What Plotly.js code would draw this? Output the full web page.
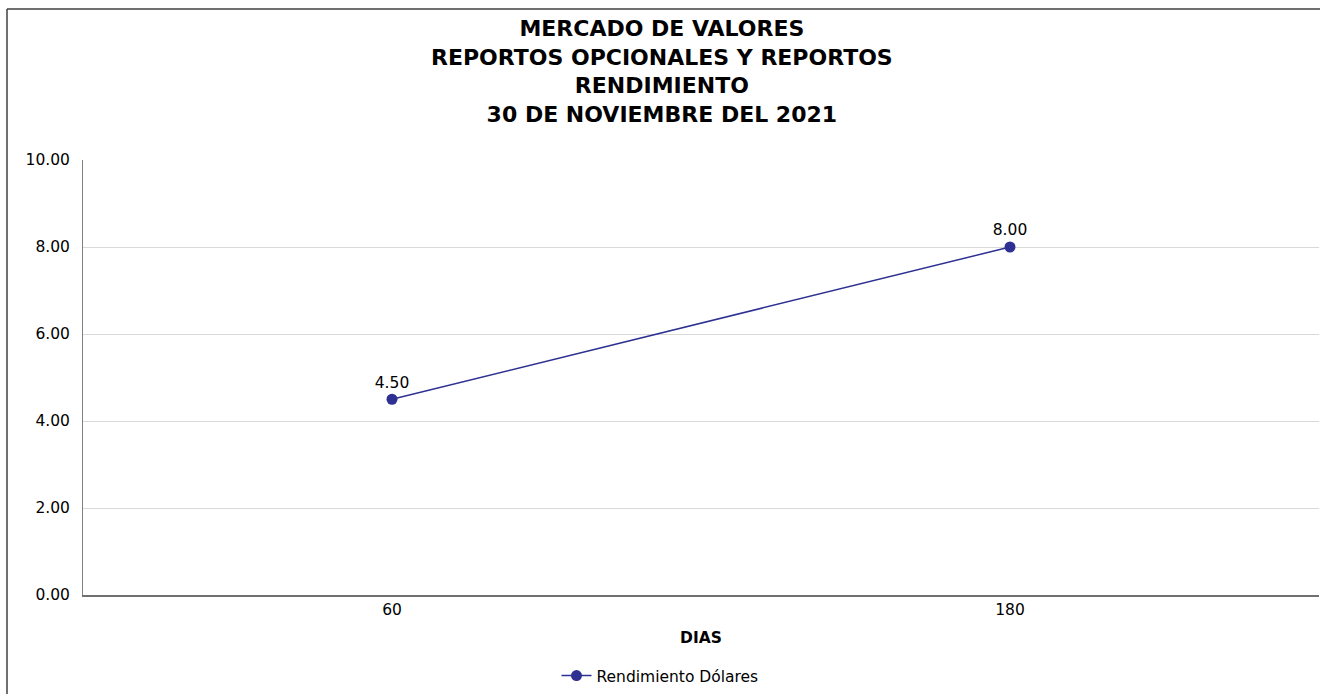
<!DOCTYPE html>
<html>
<head>
<meta charset="utf-8">
<script src="https://cdn.plot.ly/plotly-3.0.1.min.js"></script>
<style>
html,body{margin:0;padding:0;background:#fff;}
#chart{width:1320px;height:694px;}
</style>
</head>
<body>
<div id="chart"></div>
<script>
var categories = ["60", "180"];
var rendimientoDolares = [4.50, 8.00];
var yTicks = [0, 2, 4, 6, 8, 10];
var yTickLabels = ["0.00", "2.00", "4.00", "6.00", "8.00", "10.00"];
var seriesName = "Rendimiento Dólares";
var titleLines = ["MERCADO DE VALORES", "REPORTOS OPCIONALES Y REPORTOS", "RENDIMIENTO", "30 DE NOVIEMBRE DEL 2021"];

var FONT = "DejaVu Sans, Verdana, sans-serif";
var PLOT_H = 435, PLOT_W = 1236;

var trace = {
  x: categories,
  y: rendimientoDolares,
  type: "scatter",
  mode: "lines+markers+text",
  name: seriesName,
  text: rendimientoDolares.map(function(v){ return v.toFixed(2); }),
  textposition: "top center",
  textfont: {family: FONT, size: 15.5, color: "#000"},
  line: {color: "#2E3192", width: 1.5},
  marker: {color: "#2E3192", size: 11},
  cliponaxis: false
};

var layout = {
  width: 1320,
  height: 694,
  margin: {l: 83, r: 1, t: 160, b: 99, autoexpand: false},
  paper_bgcolor: "#fff",
  plot_bgcolor: "#fff",
  font: {family: FONT, size: 15.5, color: "#000"},
  annotations: [{
    text: "<b>" + titleLines.join("<br>") + "</b>",
    xref: "paper", yref: "paper",
    x: (662 - 83) / PLOT_W, xanchor: "center",
    y: 1 + (160 - 14) / PLOT_H, yanchor: "top",
    showarrow: false,
    align: "center",
    font: {family: FONT, size: 22, color: "#000"}
  }],
  xaxis: {
    type: "category",
    range: [-0.5, 1.5],
    showgrid: false,
    showline: true,
    linecolor: "#707070",
    linewidth: 1.5,
    ticks: "",
    tickfont: {family: FONT, size: 15.5},
    title: {text: "<b>DIAS</b>", font: {family: FONT, size: 15.5}, standoff: 14},
    automargin: false,
    fixedrange: true
  },
  yaxis: {
    range: [0, 10],
    tickvals: yTicks,
    ticktext: yTickLabels,
    showgrid: true,
    gridcolor: "#d9d9d9",
    gridwidth: 1,
    showline: true,
    linecolor: "#808080",
    linewidth: 1,
    ticks: "",
    ticklabelstandoff: 9,
    zeroline: false,
    tickfont: {family: FONT, size: 15.5},
    automargin: false,
    fixedrange: true
  },
  showlegend: true,
  legend: {
    orientation: "h",
    x: 0.5, xref: "container", xanchor: "center",
    y: 1 - 676 / 694, yref: "container", yanchor: "middle",
    font: {family: FONT, size: 15.5},
    bgcolor: "rgba(0,0,0,0)"
  },
  shapes: [
    {type: "line", xref: "paper", yref: "paper",
     x0: (7 - 83) / PLOT_W, x1: 1.01, y0: 1 + (160 - 9) / PLOT_H, y1: 1 + (160 - 9) / PLOT_H,
     line: {color: "#404040", width: 1.5}},
    {type: "line", xref: "paper", yref: "paper",
     x0: (7 - 83) / PLOT_W, x1: (7 - 83) / PLOT_W, y0: 1 + (160 - 9) / PLOT_H, y1: -0.3,
     line: {color: "#404040", width: 1.5}}
  ]
};

Plotly.newPlot("chart", [trace], layout, {displayModeBar: false, staticPlot: true});
</script>
</body>
</html>
